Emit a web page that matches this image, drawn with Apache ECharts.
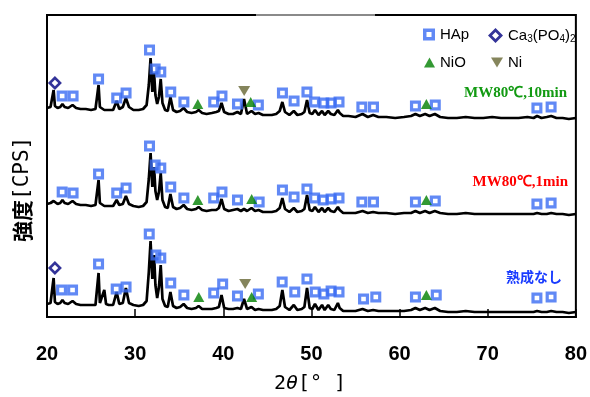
<!DOCTYPE html>
<html>
<head>
<meta charset="utf-8">
<script src="https://cdn.jsdelivr.net/npm/echarts@6/dist/echarts.min.js"></script>
<style>
  html, body { margin: 0; padding: 0; background: #fff; }
  #chart { width: 590px; height: 397px; }
</style>
</head>
<body>
<div id="chart"></div>
<script>
// XRD patterns, three samples stacked with an offset (arbitrary intensity units)
const angles = [20.0, 20.4, 20.6, 20.75, 20.9, 21.2, 21.5, 21.75, 22.0, 22.4, 22.9, 23.3, 23.8, 24.4, 25.0, 25.5, 25.7, 25.85, 26.0, 26.2,
  26.5, 26.7, 27.0, 27.5, 27.9, 28.2, 28.6, 28.95, 29.3, 29.8, 30.4, 30.9, 31.3, 31.55, 31.75, 31.95, 32.15, 32.3, 32.5, 32.7,
  32.9, 33.1, 33.4, 33.7, 34.0, 34.3, 34.7, 35.1, 35.5, 35.9, 36.4, 36.9, 37.2, 37.6, 38.1, 38.7, 39.2, 39.5, 39.8, 40.1,
  40.6, 41.1, 41.6, 42.0, 42.35, 42.7, 43.2, 43.6, 44.0, 44.5, 45.0, 45.5, 46.0, 46.4, 46.7, 47.0, 47.5, 48.0, 48.4, 48.9,
  49.2, 49.5, 49.8, 50.1, 50.4, 50.8, 51.2, 51.5, 51.9, 52.2, 52.6, 53.0, 53.2, 53.6, 54.2, 55.0, 55.8, 56.4, 57.0, 57.6,
  58.5, 59.5, 60.5, 61.3, 61.8, 62.3, 62.9, 63.4, 64.0, 64.6, 65.5, 66.5, 67.5, 68.5, 69.5, 70.5, 71.5, 72.5, 73.5, 74.5,
  75.2, 75.6, 76.1, 76.7, 77.2, 77.8, 78.5, 79.2, 80.0];

const mw10min = [209, 210, 211, 227, 211, 209, 210, 213, 210, 209, 212, 209, 208, 208, 207, 208, 210, 232, 210, 208,
  207, 207, 207, 207, 216, 208, 210, 219, 210, 207, 207, 208, 212, 232, 259, 225, 244, 222, 213, 220,
  238, 214, 207, 206, 220, 207, 205, 206, 209, 205, 204, 205, 207, 204, 203, 204, 205, 206, 214, 205,
  203, 203, 205, 203, 218, 203, 206, 203, 204, 202, 202, 202, 203, 206, 215, 205, 202, 206, 202, 203,
  205, 217, 204, 203, 207, 202, 206, 202, 206, 203, 202, 207, 204, 201, 201, 200, 203, 200, 202, 200,
  200, 199, 200, 201, 203, 201, 203, 201, 203, 200, 199, 199, 200, 199, 199, 200, 199, 199, 199, 200,
  199, 201, 199, 200, 201, 199, 199, 198, 199];

const mw1min = [113, 114, 114, 116, 114, 113, 114, 117, 114, 113, 116, 113, 112, 112, 111, 112, 114, 137, 114, 112,
  111, 111, 111, 111, 117, 112, 113, 121, 113, 111, 110, 111, 115, 138, 164, 130, 150, 126, 117, 125,
  144, 117, 110, 109, 123, 110, 108, 109, 112, 108, 107, 108, 110, 107, 106, 107, 107, 109, 118, 108,
  106, 107, 108, 106, 108, 106, 109, 106, 107, 105, 105, 105, 106, 109, 119, 108, 105, 109, 105, 106,
  108, 122, 107, 106, 110, 105, 109, 105, 109, 106, 105, 110, 107, 104, 104, 104, 106, 104, 105, 104,
  104, 103, 104, 104, 106, 104, 106, 104, 106, 104, 103, 103, 104, 103, 103, 103, 103, 103, 103, 103,
  103, 104, 103, 103, 104, 103, 103, 102, 103];

const noAging = [13, 14, 15, 39, 15, 13, 14, 17, 14, 13, 16, 13, 12, 12, 12, 12, 14, 44, 14, 13,
  27, 13, 12, 12, 25, 13, 14, 29, 14, 12, 11, 12, 16, 45, 76, 38, 62, 32, 19, 30,
  52, 18, 11, 10, 25, 11, 9, 10, 13, 9, 8, 9, 11, 8, 8, 8, 9, 10, 22, 9,
  8, 8, 9, 8, 18, 8, 10, 7, 8, 7, 7, 7, 8, 11, 27, 10, 7, 12, 7, 8,
  10, 29, 9, 8, 13, 7, 12, 7, 12, 8, 7, 14, 9, 6, 6, 6, 8, 6, 7, 6,
  6, 6, 6, 7, 9, 7, 9, 7, 9, 6, 5, 5, 6, 5, 5, 5, 5, 5, 5, 5,
  5, 6, 5, 5, 6, 5, 5, 4, 5];

// phase markers [2θ, height]
const hapTop = [[21.72, 221], [22.96, 221], [25.85, 238], [27.91, 219], [28.97, 224], [31.63, 267], [32.27, 248], [32.91, 245],
  [34.04, 225], [35.53, 215], [38.91, 215], [39.85, 221], [41.61, 213], [43.98, 212], [46.71, 224], [48.03, 216], [49.49, 225],
  [50.36, 215], [51.41, 214], [52.23, 214], [53.13, 215], [55.72, 210], [57.04, 210], [61.8, 211], [64.05, 212], [75.58, 209], [77.19, 210]];
const hapMid = [[21.72, 125], [22.96, 124], [25.85, 143], [27.91, 124], [28.97, 129], [31.63, 171], [32.27, 152], [32.91, 149],
  [34.04, 130], [35.53, 119], [38.91, 119], [39.85, 125], [41.61, 117], [44.07, 115], [46.71, 127], [48.03, 120], [49.49, 128],
  [50.36, 119], [51.33, 117], [52.23, 118], [53.13, 119], [55.72, 115], [57.04, 115], [61.8, 115], [64.05, 116], [75.58, 113], [77.19, 114]];
const hapBottom = [[21.65, 27], [22.9, 27], [25.85, 53], [27.85, 28], [28.97, 30], [31.6, 83], [32.35, 62], [32.91, 59],
  [34.04, 34], [35.53, 22], [38.91, 24], [39.93, 33], [41.61, 21], [43.98, 23], [46.68, 35], [48.11, 25], [49.49, 38],
  [50.43, 25], [51.41, 23], [52.23, 26], [53.13, 25], [55.91, 18], [57.3, 20], [61.8, 20], [64.16, 22], [75.58, 19], [77.19, 20]];
const tcpPoints = [[20.9, 234], [20.9, 49]];
const nioPoints = [[37.11, 213], [43.11, 215], [63.04, 213], [37.11, 117], [43.22, 118], [63.04, 117], [37.22, 20], [43.22, 20], [63.04, 22]];
const niPoints = [[42.37, 226], [42.48, 33]];

const xTicks = [20, 30, 40, 50, 60, 70, 80];

const chart = echarts.init(document.getElementById('chart'));

function trace(vals) {
    return {
        type: 'line',
        data: angles.map((a, i) => [a, vals[i]]),
        symbol: 'none',
        lineStyle: { color: '#000', width: 2.7 },
        silent: true,
        z: 2
    };
}

// hollow symbols drawn as rings (outer path clockwise, inner path reversed)
const hollowSquare = 'path://M0,0H10V10H0Z M2.9,2.9V7.1H7.1V2.9Z';
const hollowDiamond = 'path://M6,0L12,6L6,12L0,6Z M6,3.2L3.2,6L6,8.8L8.8,6Z';
const downTri = 'path://M0,0L12,0L6,10Z';

const hapStyle = { color: '#3a6cf2' };
const tcpStyle = { color: '#000080' };
const nioStyle = { color: '#008000' };
const niStyle = { color: '#666633' };

const legendText = { fontFamily: 'Liberation Sans', fontSize: 15, color: '#000',
    rich: {
        n: { fontFamily: 'Liberation Sans', fontSize: 15, color: '#000' },
        s: { fontFamily: 'Liberation Sans', fontSize: 10, color: '#000', verticalAlign: 'bottom', padding: [7, 0, 0, 0] }
    }
};

const option = {
    animation: false,
    backgroundColor: '#fff',
    grid: { left: 47, right: 10, top: 15, bottom: 80, show: true, borderColor: '#000', borderWidth: 2 },
    xAxis: {
        type: 'value', min: xTicks[0], max: xTicks[xTicks.length - 1], interval: 10,
        axisLine: { show: true, lineStyle: { color: '#000', width: 2 } },
        axisTick: { show: true, inside: true, length: 8, lineStyle: { color: '#000', width: 1.5 } },
        axisLabel: { margin: 27, fontFamily: 'Liberation Sans', fontWeight: 'bold', fontSize: 20, color: '#000' },
        splitLine: { show: false }
    },
    yAxis: {
        type: 'value', min: 0, max: 302,
        axisLine: { show: false }, axisTick: { show: false },
        axisLabel: { show: false }, splitLine: { show: false }
    },
    legend: [
        { data: [{ name: 'HAp', icon: hollowSquare, itemStyle: hapStyle }], left: 423, top: 27, padding: 0, itemWidth: 12, itemHeight: 12, selectedMode: false, textStyle: legendText },
        { data: [{ name: 'Ca3(PO4)2', icon: hollowDiamond, itemStyle: tcpStyle }], left: 488, top: 28, padding: 0, itemWidth: 15, itemHeight: 15, selectedMode: false,
          formatter: () => '{n|Ca}{s|3}{n|(PO}{s|4}{n|)}{s|2}', textStyle: legendText },
        { data: [{ name: 'NiO', itemStyle: nioStyle }], left: 424, top: 55, padding: 0, itemWidth: 11, itemHeight: 10, selectedMode: false, textStyle: legendText },
        { data: [{ name: 'Ni', icon: downTri, itemStyle: niStyle }], left: 491, top: 55, padding: 0, itemWidth: 12, itemHeight: 10, selectedMode: false, textStyle: legendText }
    ],
    series: [
        trace(mw10min),
        trace(mw1min),
        trace(noAging),
        { name: 'HAp', type: 'scatter', data: hapTop.concat(hapMid, hapBottom), symbol: hollowSquare, symbolSize: 11, itemStyle: hapStyle, z: 3 },
        { name: 'Ca3(PO4)2', type: 'scatter', data: tcpPoints, symbol: hollowDiamond, symbolSize: 14, itemStyle: tcpStyle, z: 3 },
        { name: 'NiO', type: 'scatter', data: nioPoints, symbol: 'triangle', symbolSize: [11, 10], itemStyle: nioStyle, z: 3 },
        { name: 'Ni', type: 'scatter', data: niPoints, symbol: downTri, symbolSize: [12, 10], itemStyle: niStyle, z: 3 }
    ],
    graphic: [
        // lighter stretch on the top frame
        { type: 'line', shape: { x1: 256, y1: 15, x2: 375, y2: 15 }, style: { stroke: '#8a8a8a', lineWidth: 2 }, z: 10 },
        { type: 'text', right: 590 - 567, top: 86, style: { text: 'MW80℃,10min', font: 'bold 15px "Liberation Serif"', fill: '#129a12' } },
        { type: 'text', right: 590 - 568, top: 175, style: { text: 'MW80℃,1min', font: 'bold 15px "Liberation Serif"', fill: '#ff0000' } },
        { type: 'text', right: 590 - 562, top: 270, style: { text: '熟成なし', font: 'bold 14px "Noto Sans CJK JP"', fill: '#1a3cff' } },
        { type: 'text', x: 12, y: 242, rotation: Math.PI / 2,
          style: { text: '{a|強度}{b|[CPS]}', rich: {
              a: { fontFamily: 'Noto Sans CJK JP', fontSize: 21, fontWeight: 'bold', fill: '#000' },
              b: { fontFamily: 'DejaVu Sans Mono', fontSize: 21, fill: '#000' } } } },
        { type: 'text', x: 274, y: 374,
          style: { text: '{a|2}{t|θ}{a|[}{d|°}{a|]}', rich: {
              a: { fontFamily: 'DejaVu Sans Mono', fontSize: 20, fill: '#000' },
              t: { fontFamily: 'DejaVu Sans Mono', fontSize: 20, fontStyle: 'italic', fill: '#000' },
              d: { fontFamily: 'DejaVu Sans Mono', fontSize: 20, width: 24, fill: '#000' } } } }
    ]
};

chart.setOption(option);
</script>
</body>
</html>
